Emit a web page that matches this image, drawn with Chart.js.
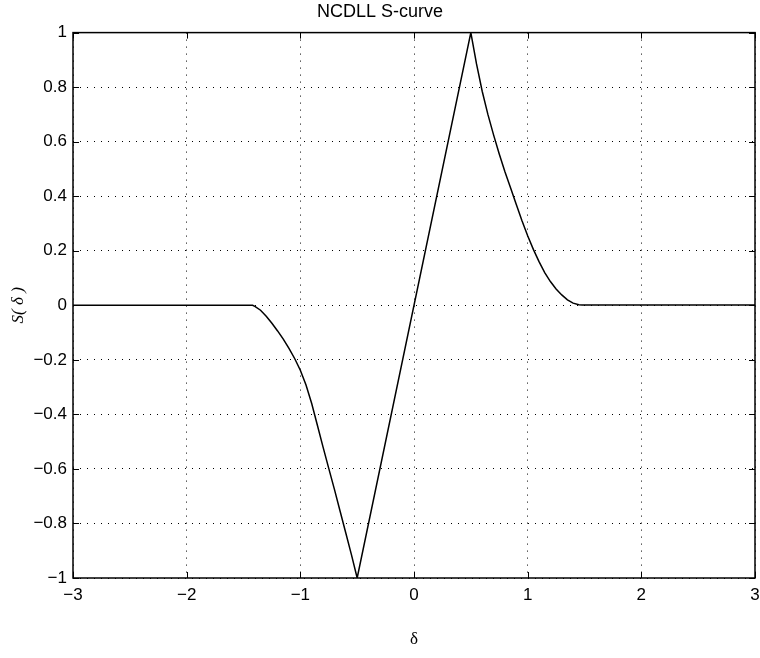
<!DOCTYPE html>
<html>
<head>
<meta charset="utf-8">
<script src="https://cdn.jsdelivr.net/npm/chart.js@4"></script>
<style>
  body { margin: 0; background: #fff; }
  #wrap { width: 760px; height: 658px; }
</style>
</head>
<body>
<div id="wrap"><canvas id="scurve" width="760" height="658"></canvas></div>
<script>
// delta values and S(delta)
const deltaVals = [-3, -1.42, -1.4, -1.35, -1.3, -1.25, -1.2, -1.15, -1.1, -1.05, -1.0,
                   -0.95, -0.9, -0.85, -0.8, -0.75, -0.7, -0.65, -0.6, -0.55, -0.5,
                   0.5, 0.55, 0.6, 0.65, 0.7, 0.75, 0.8, 0.85, 0.9, 0.95, 1.0,
                   1.05, 1.1, 1.15, 1.2, 1.25, 1.3, 1.35, 1.4, 1.45, 1.48, 3];
const sVals = [0, 0, -0.004, -0.018, -0.04, -0.066, -0.094, -0.124, -0.158, -0.195, -0.238,
               -0.292, -0.36, -0.44, -0.52, -0.598, -0.675, -0.755, -0.835, -0.915, -1,
               1, 0.885, 0.785, 0.70, 0.625, 0.555, 0.49, 0.43, 0.37, 0.31, 0.255,
               0.205, 0.16, 0.12, 0.087, 0.06, 0.038, 0.02, 0.008, 0.002, 0.001, 0.001];
const xTicks = [-3, -2, -1, 0, 1, 2, 3];
const yTicks = [-1, -0.8, -0.6, -0.4, -0.2, 0, 0.2, 0.4, 0.6, 0.8, 1];

const points = deltaVals.map((d, i) => ({ x: d, y: sVals[i] }));

// matlab style minus sign
function fmt(v) {
    v = Math.round(v * 10) / 10;
    return v < 0 ? '\u2212' + Math.abs(v) : String(v);
}

// box around the axes + tick marks pointing inwards on all 4 sides
const boxTicks = {
    id: 'boxTicks',
    afterDraw(chart) {
        const ctx = chart.ctx;
        const a = chart.chartArea;
        const xs = chart.scales.x, ys = chart.scales.y;
        const len = 6;
        ctx.save();
        ctx.strokeStyle = '#000';
        ctx.lineWidth = 1;
        ctx.beginPath();
        xTicks.forEach(t => {
            const px = Math.round(xs.getPixelForValue(t)) + 0.5;
            ctx.moveTo(px, a.bottom); ctx.lineTo(px, a.bottom - len);
            ctx.moveTo(px, a.top); ctx.lineTo(px, a.top + len);
        });
        yTicks.forEach(t => {
            const py = Math.round(ys.getPixelForValue(t)) + 0.5;
            ctx.moveTo(a.left, py); ctx.lineTo(a.left + len, py);
            ctx.moveTo(a.right, py); ctx.lineTo(a.right - len, py);
        });
        ctx.stroke();
        ctx.lineWidth = 1.5;
        ctx.strokeRect(a.left, a.top, a.right - a.left, a.bottom - a.top);
        ctx.restore();
    }
};

new Chart(document.getElementById('scurve'), {
    type: 'line',
    data: {
        datasets: [{
            label: 'S-curve',
            data: points,
            borderColor: '#000',
            borderWidth: 1.5,
            pointRadius: 0,
            tension: 0,
            fill: false
        }]
    },
    options: {
        responsive: false,
        animation: false,
        layout: { padding: 0 },
        plugins: {
            legend: { display: false },
            tooltip: { enabled: false },
            title: {
                display: true,
                text: 'NCDLL S-curve',
                color: '#000',
                font: { family: 'Liberation Sans', size: 18, weight: 'normal', lineHeight: 1.2 },
                padding: { top: 1, bottom: 10 }
            }
        },
        scales: {
            x: {
                type: 'linear',
                min: -3,
                max: 3,
                afterBuildTicks: s => { s.ticks = xTicks.map(v => ({ value: v })); },
                afterFit: s => {
                    s.height = 80;
                    s.paddingRight = 5; // let the last label run to the edge like the original
                },
                grid: { color: '#000', lineWidth: 1, drawTicks: false },
                border: { display: false, dash: [1, 6] },
                ticks: {
                    color: '#000',
                    padding: 7,
                    font: { family: 'Liberation Sans', size: 17 },
                    callback: v => fmt(v)
                },
                title: {
                    display: true,
                    text: 'δ',
                    color: '#000',
                    font: { family: 'Liberation Serif', size: 17 },
                    padding: { top: 0, bottom: 8 }
                }
            },
            y: {
                type: 'linear',
                min: -1,
                max: 1,
                afterBuildTicks: s => { s.ticks = yTicks.map(v => ({ value: v })); },
                afterFit: s => { s.width = 73; },
                grid: { color: '#000', lineWidth: 1, drawTicks: false },
                border: { display: false, dash: [1, 6] },
                ticks: {
                    color: '#000',
                    padding: 6,
                    font: { family: 'Liberation Sans', size: 17 },
                    callback: v => fmt(v)
                },
                title: {
                    display: true,
                    text: 'S( δ )',
                    color: '#000',
                    font: { family: 'Liberation Serif', size: 17, style: 'italic' },
                    padding: { top: 8, bottom: 0 }
                }
            }
        }
    },
    plugins: [boxTicks]
});
</script>
</body>
</html>
